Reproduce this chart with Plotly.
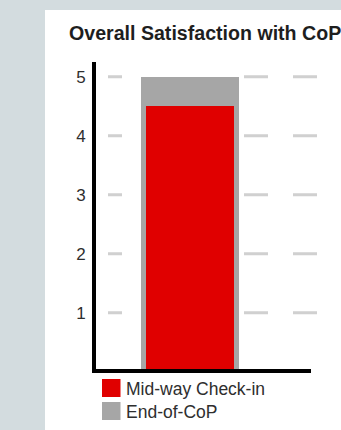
import plotly.graph_objects as go

# ---- data ----
categories = ["CoP"]
series_names = ["Mid-way Check-in", "End-of-CoP"]
midway_values = [4.5]
end_values = [5.0]
tick_values = [1, 2, 3, 4, 5]
tick_labels = ["1", "2", "3", "4", "5"]
title_text = "Overall Satisfaction with CoP"

RED = "#e00000"
GRAY = "#a6a6a6"
BG = "#d3dcdf"
TXT = "#2e2e2e"

W, H = 341, 430
L, R, T, B = 96, 30, 62, 61
PW, PH = W - L - R, H - T - B
Y0, Y1 = 0.046, 5.249


def px(x):
    return (x - L) / PW


def py(y):
    return (H - B - y) / PH


fig = go.Figure()
fig.add_trace(go.Bar(x=categories, y=end_values, name=series_names[1],
                     marker=dict(color=GRAY, line=dict(width=0)), width=0.9,
                     showlegend=False))
fig.add_trace(go.Bar(x=categories, y=midway_values, name=series_names[0],
                     marker=dict(color=RED, line=dict(width=0)), width=0.808,
                     showlegend=False))

shapes = []
# white panel
shapes.append(dict(type="rect", xref="paper", yref="paper", x0=px(45), x1=px(W + 5),
                   y0=py(10), y1=py(H + 5), fillcolor="white", line=dict(width=0), layer="below"))
# dashed gridlines
for v in tick_values:
    shapes.append(dict(type="line", xref="paper", yref="y", x0=px(108), x1=px(317), y0=v, y1=v,
                       line=dict(color="#d0d0d0", width=3, dash="14px,122px,24px,25px,24px"),
                       layer="below"))
# manual legend
legend_colors = [RED, GRAY]
annotations = []
for i, (name, col) in enumerate(zip(series_names, legend_colors)):
    top = 379 + i * 23
    shapes.append(dict(type="rect", xref="paper", yref="paper", x0=px(102), x1=px(120.5),
                       y0=py(top + 18), y1=py(top), fillcolor=col, line=dict(width=0)))
    annotations.append(dict(xref="paper", yref="paper", x=px(124), y=py(top + 9.5),
                            xanchor="left", yanchor="middle", showarrow=False, text=name,
                            font=dict(family="Liberation Sans, Arial", size=17.5, color=TXT)))

fig.update_layout(
    width=W, height=H,
    margin=dict(l=L, r=R, t=T, b=B, pad=0),
    paper_bgcolor=BG, plot_bgcolor="rgba(0,0,0,0)",
    barmode="overlay", bargap=0,
    showlegend=False,
    title=dict(text="<b>" + title_text + "</b>", xref="container", yref="container",
               x=69 / W, xanchor="left", y=1 - 33.5 / H, yanchor="middle",
               font=dict(family="Liberation Sans, Arial", size=19.6, color="#1e1e1e")),
    xaxis=dict(range=[-0.863, 1.111], showticklabels=False, showgrid=False, zeroline=False,
               showline=True, linecolor="black", linewidth=4, ticks=""),
    yaxis=dict(range=[Y0, Y1], tickvals=tick_values, ticktext=tick_labels, showgrid=False,
               zeroline=False, showline=True, linecolor="black", linewidth=4, ticks="",
               tickfont=dict(family="Liberation Sans, Arial", size=17, color=TXT),
               ticklabelstandoff=3),
    shapes=shapes,
    annotations=annotations,
)

fig.write_html("out.html")
